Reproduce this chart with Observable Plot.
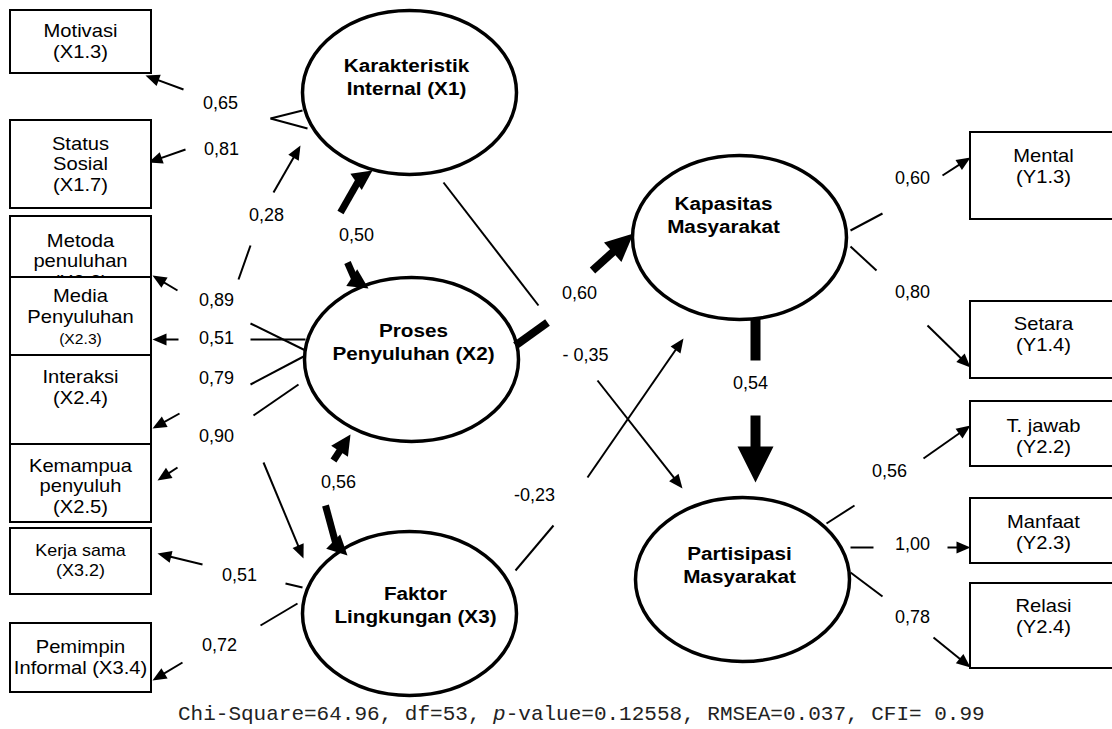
<!DOCTYPE html>
<html><head><meta charset="utf-8">
<script src="https://cdn.jsdelivr.net/npm/d3@7"></script>
<script src="https://cdn.jsdelivr.net/npm/@observablehq/plot@0.6"></script>
<style>
body{margin:0;background:#fff}
#cap{font:21px "Liberation Mono","Courier New",monospace;color:#222;padding-left:178px;height:29px;line-height:29px;white-space:pre}
</style>
</head><body><div id="chart"></div><div id="cap"></div>
<script>
// ---------------- DATA ----------------
const latentNames = ["Karakteristik\nInternal (X1)", "Proses\nPenyuluhan (X2)", "Faktor\nLingkungan (X3)", "Kapasitas\nMasyarakat", "Partisipasi\nMasyarakat"];
const indicatorNames = ["Motivasi\n(X1.3)", "Status\nSosial\n(X1.7)", "Metoda\npenuluhan\n(X2.2)", "Media\nPenyuluhan\n(X2.3)", "Interaksi\n(X2.4)", "Kemampua\npenyuluh\n(X2.5)", "Kerja sama\n(X3.2)", "Pemimpin\nInformal (X3.4)", "Mental\n(Y1.3)", "Setara\n(Y1.4)", "T. jawab\n(Y2.2)", "Manfaat\n(Y2.3)", "Relasi\n(Y2.4)"];
const loadingValues = ["0,65", "0,81", "0,89", "0,51", "0,79", "0,90", "0,51", "0,72", "0,60", "0,80", "0,56", "1,00", "0,78"];
const structuralValues = ["0,28", "0,50", "0,56", "0,60", "- 0,35", "-0,23", "0,54"];
const fitStats = ["Chi-Square=64.96", "df=53", "p-value=0.12558", "RMSEA=0.037", "CFI= 0.99"];

// ---------------- LAYOUT (diagram coordinates) ----------------
const latentLayout = [[409, 92, 406, 94], [411, 359, 413, 359], [409, 613, 415, 622], [739, 237, 723, 232], [742, 579, 739, 582]];
const boxLayout = [
  [10, 10, 151, 73, 80, 57], [10, 120, 151, 208, 80, 190], [10, 216, 151, 300, 80, 287],
  [10, 277, 151, 355, 80, 322], [10, 355, 151, 444, 80, 403], [10, 444, 151, 522, 80, 512],
  [10, 528, 151, 594, 80, 575], [10, 623, 151, 692, 80, 673],
  [970, 132, 1120, 219, 1043, 182], [970, 301, 1120, 378, 1043, 350], [970, 401, 1120, 466, 1043, 452],
  [970, 498, 1120, 563, 1043, 548], [970, 583, 1120, 668, 1043, 632]
];
const loadingGeom = [
  [[307,128],[270,118],[183,89],[145,75],[220,103]],
  [[302,110],[270,118],[185,149],[148,162],[221,149]],
  [[305,350],[250,323],[177,290],[152,275],[216,300]],
  [[305,339],[250,339],[178,339],[152,339],[216,338]],
  [[305,355],[250,384],[179,413],[152,428],[216,378]],
  [[298,384],[253,415],[177,467],[157,480],[216,436]],
  [[302,587],[285,583],[202,564],[157,553],[239,575]],
  [[297,603],[260,625],[182,662],[152,680],[219,645]],
  [[850,230],[882,213],[942,175],[970,157],[912,178]],
  [[850,246],[876,270],[927,325],[970,367],[912,292]],
  [[826,523],[854,505],[923,458],[970,425],[889,471]],
  [[850,547],[873,547],[947,547],[970,547],[912,544]],
  [[850,572],[882,596],[933,637],[970,667],[912,617]]
];
const structuralGeom = [
  {kind: "thin",  pts: [[238,279],[250,245],[273,192],[300,145]], label: [266,215]},
  {kind: "arc",   pts: [[372,170],[340,212],[347,262],[368,288]], bends: [18,-18], label: [356,235]},
  {kind: "arc",   pts: [[350,434],[333,460],[325,505],[347,555]], bends: [0,-22], label: [338,482]},
  {kind: "bold",  pts: [[515,345],[547,322],[592,270],[633,233]], label: [579,293]},
  {kind: "thin",  pts: [[443,182],[538,305],[597,380],[682,488]], label: [585,355]},
  {kind: "thin",  pts: [[515,570],[553,525],[587,477],[683,338]], label: [534,495]},
  {kind: "heavy", pts: [[755,318],[755,360],[755,415],[755,482]], label: [750,383]}
];
const extraPath = [[263,462],[303,558]];
const styles = {thin: {w: 2, len: 14, hw: 6}, arc: {w: 7, len: 20, hw: 10}, bold: {w: 8, len: 28, hw: 13}, heavy: {w: 10, len: 36, hw: 18}};

// ---------------- BUILD ----------------
const W = 1112, H = 700;
const deg = 180 / Math.PI;
const ang = (a, b) => Math.atan2(b[1] - a[1], b[0] - a[0]);
const back = (b, th, d) => [b[0] - d * Math.cos(th), b[1] - d * Math.sin(th)];
const segs = {thin: [], arc: [], bold: [], heavy: []};
const heads = {thin: [], arc: [], bold: [], heavy: []};
const labels = [];
function straight(kind, A, G1, G2, B) {
  const s = styles[kind];
  const th = ang(G2, B);
  segs[kind].push({x1: A[0], y1: A[1], x2: G1[0], y2: G1[1], bend: 0});
  const e = back(B, th, kind === "thin" ? 4 : s.len * 0.8);
  segs[kind].push({x1: G2[0], y1: G2[1], x2: e[0], y2: e[1], bend: 0});
  heads[kind].push({x: B[0], y: B[1], rotate: th * deg + 90});
}
loadingValues.forEach((v, i) => {
  const [A, G1, G2, B, L] = loadingGeom[i];
  straight("thin", A, G1, G2, B);
  labels.push({text: v, x: L[0], y: L[1]});
});
structuralValues.forEach((v, i) => {
  const g = structuralGeom[i];
  if (g.kind === "arc") {
    const s = styles.arc;
    const [B1, G1, G2, B2] = g.pts;
    [[G1, B1, g.bends[0]], [G2, B2, g.bends[1]]].forEach(([from, tip, bend]) => {
      const th = ang(from, tip) + bend / deg;
      const e = back(tip, th, s.len * 0.8);
      segs.arc.push({x1: from[0], y1: from[1], x2: e[0], y2: e[1], bend});
      heads.arc.push({x: tip[0], y: tip[1], rotate: th * deg + 90});
    });
  } else {
    straight(g.kind, ...g.pts);
  }
  labels.push({text: v, x: g.label[0], y: g.label[1]});
});
{
  const [A, B] = extraPath; const th = ang(A, B);
  const e = back(B, th, 4);
  segs.thin.push({x1: A[0], y1: A[1], x2: e[0], y2: e[1], bend: 0});
  heads.thin.push({x: B[0], y: B[1], rotate: th * deg + 90});
}

const latents = latentNames.map((name, i) => ({name, cx: latentLayout[i][0], cy: latentLayout[i][1], tx: latentLayout[i][2], ty: latentLayout[i][3]}));
const boxes = indicatorNames.map((name, i) => {
  const [x1, y1, x2, y2, tx, ty] = boxLayout[i];
  return {name, x1, y1, x2, y2, tx, ty, i};
});
const isMedia = d => d.name.startsWith("Media");
const isSmall = d => d.name.startsWith("Kerja");
const mediaLines = d => d.name.split("\n");

const ellipseSymbol = {
  draw(ctx) {
    const rx = 107, ry = 82, k = 0.5522847;
    ctx.moveTo(rx, 0);
    ctx.bezierCurveTo(rx, ry * k, rx * k, ry, 0, ry);
    ctx.bezierCurveTo(-rx * k, ry, -rx, ry * k, -rx, 0);
    ctx.bezierCurveTo(-rx, -ry * k, -rx * k, -ry, 0, -ry);
    ctx.bezierCurveTo(rx * k, -ry, rx, -ry * k, rx, 0);
    ctx.closePath();
  }
};
const headShape = hw => ({
  draw(ctx, l) { ctx.moveTo(0, -l); ctx.lineTo(-hw, 0); ctx.lineTo(hw, 0); ctx.closePath(); }
});

const marks = [];
marks.push(Plot.dot(latents, {x: "cx", y: "cy", symbol: ellipseSymbol, r: 5, fill: "white", stroke: "black", strokeWidth: 3.5}));
for (const kind of ["thin", "arc", "bold", "heavy"]) {
  const s = styles[kind];
  if (kind === "arc") {
    marks.push(Plot.arrow(segs.arc, {x1: "x1", y1: "y1", x2: "x2", y2: "y2", bend: d => d.bend, headLength: 0, strokeWidth: s.w, stroke: "black", strokeLinecap: "butt"}));
  } else {
    marks.push(Plot.link(segs[kind], {x1: "x1", y1: "y1", x2: "x2", y2: "y2", strokeWidth: s.w, stroke: "black", strokeLinecap: "butt"}));
  }
  marks.push(Plot.vector(heads[kind], {x: "x", y: "y", rotate: "rotate", length: s.len, anchor: "end", shape: headShape(s.hw), fill: "black", stroke: "none"}));
}
const boxText = {fontFamily: "'Liberation Sans', Arial, sans-serif", fill: "black", textAnchor: "middle", lineAnchor: "bottom"};
marks.push(Plot.rect(boxes.filter(d => !isMedia(d)), {x1: "x1", x2: "x2", y1: "y1", y2: "y2", fill: "white", stroke: "black", strokeWidth: 2}));
marks.push(Plot.text(boxes.filter(d => !isMedia(d) && !isSmall(d)), {x: "tx", y: "ty", text: "name", fontSize: 18, lineHeight: 1.13, ...boxText}));
marks.push(Plot.text(boxes.filter(isSmall), {x: "tx", y: "ty", text: "name", fontSize: 16, lineHeight: 1.25, ...boxText}));
marks.push(Plot.rect(boxes.filter(isMedia), {x1: "x1", x2: "x2", y1: "y1", y2: "y2", fill: "white", stroke: "black", strokeWidth: 2}));
marks.push(Plot.text(boxes.filter(isMedia), {x: "tx", y: "ty", text: d => mediaLines(d).slice(0, 2).join("\n"), fontSize: 18, lineHeight: 1.13, ...boxText}));
marks.push(Plot.text(boxes.filter(isMedia), {x: "tx", y: d => d.ty + 21, text: d => mediaLines(d)[2], fontSize: 14, ...boxText}));
marks.push(Plot.text(labels, {x: "x", y: "y", text: "text", fontSize: 18, fontFamily: "'Liberation Sans', Arial, sans-serif", fill: "black", textAnchor: "middle"}));
marks.push(Plot.text(latents, {x: "tx", y: "ty", text: "name", fontSize: 19, fontWeight: "bold", lineHeight: 1.16, fontFamily: "'Liberation Sans', Arial, sans-serif", fill: "black", textAnchor: "middle", lineAnchor: "bottom"}));

const chart = Plot.plot({
  width: W, height: H, margin: 0,
  x: {domain: [0, W], range: [0, W], axis: null},
  y: {domain: [0, H], range: [0, H], axis: null},
  style: {background: "white", color: "black", overflow: "visible"},
  marks
});
// the reference typography is slightly wider than the installed Arial metrics:
// widen the box and latent-variable labels around their own anchor points
const norm = s => s.replace(/\s+/g, "");
const boxStrings = new Set(indicatorNames.flatMap(s => [norm(s), ...s.split("\n").map(norm), norm(s.split("\n").slice(0, 2).join(""))]));
const latentStrings = new Set(latentNames.map(norm));
d3.select(chart).selectAll("text").each(function () {
  const c = norm(this.textContent);
  const k = latentStrings.has(c) ? 1.09 : boxStrings.has(c) ? 1.12 : 1;
  if (k === 1) return;
  const t = this.getAttribute("transform");
  if (t) {
    this.setAttribute("transform", `${t} scale(${k},1)`);
  } else {
    const x = +this.getAttribute("x") || 0;
    this.setAttribute("transform", `translate(${x},0) scale(${k},1) translate(${-x},0)`);
  }
});
document.getElementById("chart").appendChild(chart);

const cap = document.getElementById("cap");
fitStats.forEach((s, i) => {
  if (i) cap.appendChild(document.createTextNode(", "));
  if (s.startsWith("p-")) {
    const it = document.createElement("i"); it.textContent = "p"; cap.appendChild(it);
    cap.appendChild(document.createTextNode(s.slice(1)));
  } else cap.appendChild(document.createTextNode(s));
});
</script>
</body></html>
